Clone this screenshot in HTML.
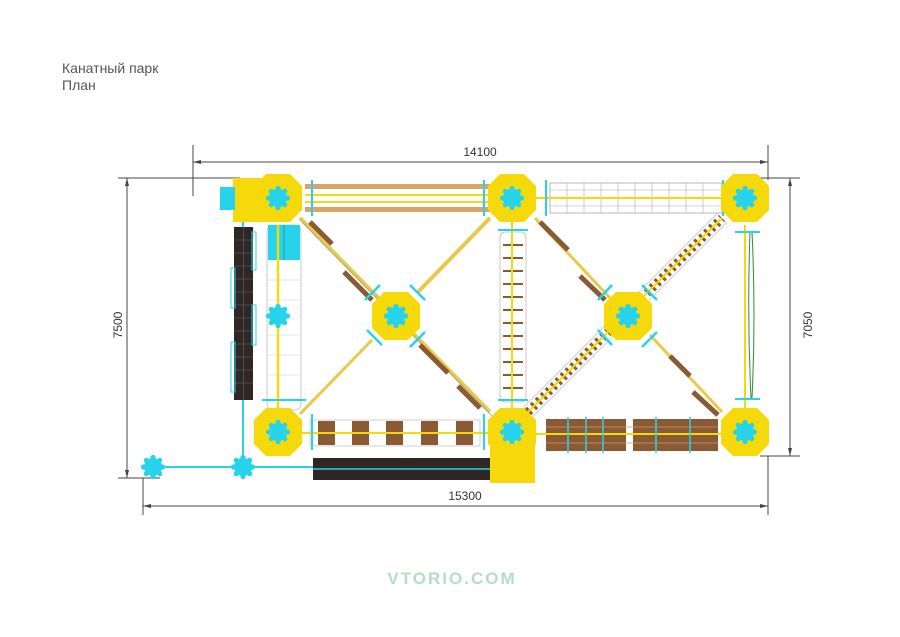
<!DOCTYPE html>
<html><head><meta charset="utf-8"><style>
html,body{margin:0;padding:0;background:#fff;}
svg{display:block;}
</style></head><body>
<svg width="900" height="637" viewBox="0 0 900 637" xmlns="http://www.w3.org/2000/svg">
<defs>
<g id="oct"><polygon points="-12,-24 12,-24 24,-12 24,12 12,24 -12,24 -24,12 -24,-12" fill="#f5d90a"/></g>
<g id="fl">
<g fill="#27d3ea">
<circle r="9"/>
<circle cx="0" cy="-9.5" r="2.6"/><circle cx="0" cy="9.5" r="2.6"/><circle cx="9.5" cy="0" r="2.6"/><circle cx="-9.5" cy="0" r="2.6"/>
<circle cx="6.7" cy="6.7" r="2.6"/><circle cx="-6.7" cy="6.7" r="2.6"/><circle cx="6.7" cy="-6.7" r="2.6"/><circle cx="-6.7" cy="-6.7" r="2.6"/>
</g></g>
</defs>

<text x="62" y="73" font-family="Liberation Sans, sans-serif" font-size="14" fill="#555">Канатный парк</text>
<text x="62" y="90" font-family="Liberation Sans, sans-serif" font-size="14" fill="#555">План</text>

<!-- dimensions -->
<g stroke="#444" stroke-width="1" fill="none">
<line x1="193" y1="162" x2="768" y2="162"/>
<line x1="193" y1="145" x2="193" y2="196"/>
<line x1="768" y1="145" x2="768" y2="180"/>
<line x1="127" y1="178" x2="127" y2="478"/>
<line x1="118" y1="178" x2="240" y2="178"/>
<line x1="118" y1="478" x2="160" y2="478"/>
<line x1="790" y1="178" x2="790" y2="456"/>
<line x1="760" y1="178" x2="800" y2="178"/>
<line x1="760" y1="456" x2="800" y2="456"/>
<line x1="143" y1="506" x2="768" y2="506"/>
<line x1="143" y1="478" x2="143" y2="515"/>
<line x1="768" y1="456" x2="768" y2="515"/>
</g>
<g fill="#444">
<polygon points="193,162 201,160 201,164"/><polygon points="768,162 760,160 760,164"/>
<polygon points="127,178 125,186 129,186"/><polygon points="127,478 125,470 129,470"/>
<polygon points="790,178 788,186 792,186"/><polygon points="790,456 788,448 792,448"/>
<polygon points="143,506 151,504 151,508"/><polygon points="768,506 760,504 760,508"/>
</g>
<g font-family="Liberation Sans, sans-serif" font-size="12" fill="#333">
<text x="480" y="156" text-anchor="middle">14100</text>
<text x="465" y="500" text-anchor="middle">15300</text>
<text transform="translate(122,325) rotate(-90)" text-anchor="middle">7500</text>
<text transform="translate(812,325) rotate(-90)" text-anchor="middle">7050</text>
</g>

<!-- cyan main lines -->
<g stroke="#27d3ea" stroke-width="2" fill="none">
<line x1="150" y1="467" x2="512" y2="467"/>
<line x1="243" y1="212" x2="243" y2="467"/>
</g>

<!-- left black panel column -->
<rect x="234" y="227" width="19" height="173" fill="#2e2725"/>
<g stroke="#6e6460" stroke-width="0.6">
<line x1="243.5" y1="227" x2="243.5" y2="400"/>
<line x1="234" y1="240" x2="253" y2="240"/><line x1="234" y1="253" x2="253" y2="253"/><line x1="234" y1="266" x2="253" y2="266"/><line x1="234" y1="279" x2="253" y2="279"/><line x1="234" y1="292" x2="253" y2="292"/><line x1="234" y1="305" x2="253" y2="305"/><line x1="234" y1="318" x2="253" y2="318"/><line x1="234" y1="331" x2="253" y2="331"/><line x1="234" y1="344" x2="253" y2="344"/><line x1="234" y1="357" x2="253" y2="357"/><line x1="234" y1="370" x2="253" y2="370"/><line x1="234" y1="383" x2="253" y2="383"/>
</g>
<g stroke="#27d3ea" stroke-width="1" fill="none">
<rect x="252" y="232" width="4" height="38"/><rect x="231" y="268" width="4" height="40"/><rect x="252" y="305" width="4" height="40"/><rect x="231" y="342" width="4" height="50"/>
</g>

<!-- left white column bridge -->
<rect x="267" y="225" width="34" height="185" rx="6" fill="#fff" stroke="#bbb" stroke-width="0.8"/>
<rect x="268" y="225" width="32" height="35" fill="#27d3ea"/>
<line x1="284" y1="225" x2="284" y2="260" stroke="#1a9cb0" stroke-width="1"/>
<line x1="278" y1="225" x2="278" y2="410" stroke="#f5d90a" stroke-width="2.5"/>
<g stroke="#ccc" stroke-width="0.6"><line x1="268" y1="280" x2="300" y2="280"/><line x1="268" y1="300" x2="300" y2="300"/><line x1="268" y1="335" x2="300" y2="335"/><line x1="268" y1="355" x2="300" y2="355"/><line x1="268" y1="375" x2="300" y2="375"/></g>
<use href="#fl" x="278" y="316"/>
<line x1="262" y1="400" x2="306" y2="400" stroke="#27d3ea" stroke-width="2"/>

<!-- top left bridge -->
<rect x="305" y="184" width="190" height="5" fill="#d8a468"/>
<rect x="305" y="207" width="190" height="5" fill="#d8a468"/>
<line x1="305" y1="195" x2="495" y2="195" stroke="#f5d90a" stroke-width="2"/>
<line x1="305" y1="202" x2="495" y2="202" stroke="#f5d90a" stroke-width="2"/>
<line x1="312" y1="180" x2="312" y2="216" stroke="#27d3ea" stroke-width="2"/>
<line x1="484" y1="180" x2="484" y2="216" stroke="#27d3ea" stroke-width="2"/>

<!-- top right net -->
<rect x="550" y="183" width="172" height="30" fill="none" stroke="#999" stroke-width="0.7"/>
<g stroke="#aaa" stroke-width="0.6">
<line x1="550" y1="190" x2="722" y2="190"/><line x1="550" y1="206" x2="722" y2="206"/>
<line x1="567" y1="183" x2="567" y2="213"/><line x1="584" y1="183" x2="584" y2="213"/><line x1="601" y1="183" x2="601" y2="213"/><line x1="618" y1="183" x2="618" y2="213"/><line x1="635" y1="183" x2="635" y2="213"/><line x1="652" y1="183" x2="652" y2="213"/><line x1="669" y1="183" x2="669" y2="213"/><line x1="686" y1="183" x2="686" y2="213"/><line x1="703" y1="183" x2="703" y2="213"/>
</g>
<line x1="536" y1="198" x2="722" y2="198" stroke="#f5d90a" stroke-width="2"/>
<line x1="546" y1="180" x2="546" y2="216" stroke="#27d3ea" stroke-width="2"/>
<line x1="723" y1="180" x2="723" y2="216" stroke="#27d3ea" stroke-width="2"/>

<!-- middle vertical bridge -->
<rect x="500" y="232" width="26" height="170" rx="5" fill="#fff" stroke="#bbb" stroke-width="0.8"/>
<g stroke="#8a5a34" stroke-width="2">
<line x1="503" y1="245" x2="523" y2="245"/><line x1="503" y1="258" x2="523" y2="258"/><line x1="503" y1="271" x2="523" y2="271"/><line x1="503" y1="284" x2="523" y2="284"/><line x1="503" y1="297" x2="523" y2="297"/><line x1="503" y1="310" x2="523" y2="310"/><line x1="503" y1="323" x2="523" y2="323"/><line x1="503" y1="336" x2="523" y2="336"/><line x1="503" y1="349" x2="523" y2="349"/><line x1="503" y1="362" x2="523" y2="362"/><line x1="503" y1="375" x2="523" y2="375"/><line x1="503" y1="388" x2="523" y2="388"/>
</g>
<line x1="512" y1="222" x2="512" y2="410" stroke="#f5d90a" stroke-width="2"/>
<line x1="498" y1="230" x2="528" y2="230" stroke="#27d3ea" stroke-width="2"/>
<line x1="498" y1="400" x2="528" y2="400" stroke="#27d3ea" stroke-width="2"/>

<!-- right vertical -->
<line x1="745" y1="225" x2="745" y2="410" stroke="#f5d90a" stroke-width="2"/>
<path d="M752 232 Q756 315 752 398 M750 232 Q747 315 751 398" stroke="#2e8b3a" stroke-width="1" fill="none"/>
<line x1="735" y1="232" x2="760" y2="232" stroke="#27d3ea" stroke-width="2"/>
<line x1="735" y1="399" x2="760" y2="399" stroke="#27d3ea" stroke-width="2"/>

<!-- diagonals left square -->
<g stroke-linecap="butt">
<line x1="300" y1="218" x2="490" y2="412" stroke="#eac94a" stroke-width="4"/>
<line x1="302" y1="222" x2="492" y2="416" stroke="#999" stroke-width="0.7"/>
<line x1="490" y1="218" x2="418" y2="292" stroke="#eac94a" stroke-width="4"/>
<line x1="372" y1="340" x2="300" y2="414" stroke="#eac94a" stroke-width="3"/>
<g stroke="#8a5a34" stroke-width="5">
<line x1="310" y1="222" x2="332" y2="244"/><line x1="344" y1="272" x2="372" y2="300"/>
<line x1="420" y1="345" x2="448" y2="373"/><line x1="458" y1="386" x2="480" y2="408"/>
</g>
<!-- right square -->
<line x1="535" y1="218" x2="610" y2="298" stroke="#eac94a" stroke-width="3"/>
<line x1="650" y1="335" x2="722" y2="412" stroke="#eac94a" stroke-width="3"/>
<g stroke="#8a5a34" stroke-width="5">
<line x1="540" y1="222" x2="568" y2="250"/><line x1="580" y1="276" x2="605" y2="300"/>
<line x1="670" y1="356" x2="690" y2="376"/><line x1="693" y1="392" x2="718" y2="415"/>
</g>
<line x1="528" y1="412" x2="722" y2="218" stroke="#ccc" stroke-width="14"/>
<line x1="528" y1="412" x2="722" y2="218" stroke="#fff" stroke-width="12"/>
<line x1="528" y1="412" x2="722" y2="218" stroke="#8a5a34" stroke-width="9" stroke-dasharray="3 4"/>
<line x1="528" y1="412" x2="722" y2="218" stroke="#f5d90a" stroke-width="2"/>
</g>

<!-- bottom left bridge -->
<rect x="310" y="420" width="170" height="26" fill="#fff" stroke="#bbb" stroke-width="0.7"/>
<g fill="#8a5a34"><rect x="318" y="421" width="17" height="24"/><rect x="352" y="421" width="17" height="24"/><rect x="386" y="421" width="17" height="24"/><rect x="421" y="421" width="17" height="24"/><rect x="456" y="421" width="17" height="24"/></g>
<line x1="300" y1="433" x2="490" y2="433" stroke="#f5d90a" stroke-width="2"/>
<line x1="312" y1="414" x2="312" y2="450" stroke="#27d3ea" stroke-width="2"/>
<line x1="484" y1="414" x2="484" y2="450" stroke="#27d3ea" stroke-width="2"/>

<!-- bottom right bridge -->
<rect x="546" y="419" width="80" height="32" fill="#8a5a34"/>
<rect x="633" y="419" width="85" height="32" fill="#8a5a34"/>
<g stroke="#c59a6a" stroke-width="0.8"><line x1="546" y1="427" x2="718" y2="427"/><line x1="546" y1="443" x2="718" y2="443"/></g>
<line x1="536" y1="434" x2="722" y2="434" stroke="#f5d90a" stroke-width="2"/>
<g stroke="#27d3ea" stroke-width="1.5"><line x1="568" y1="417" x2="568" y2="453"/><line x1="586" y1="417" x2="586" y2="453"/><line x1="603" y1="417" x2="603" y2="453"/><line x1="656" y1="417" x2="656" y2="453"/><line x1="690" y1="417" x2="690" y2="453"/></g>

<!-- bottom black strip -->
<rect x="313" y="458" width="183" height="22" fill="#2e2725"/>
<line x1="313" y1="469" x2="496" y2="469" stroke="#27d3ea" stroke-width="1.5"/>

<!-- platforms -->
<rect x="233" y="178" width="50" height="44" fill="#f5d90a"/>
<rect x="220" y="187" width="15" height="23" fill="#27d3ea"/>
<rect x="490" y="440" width="45" height="43" fill="#f5d90a"/>
<use href="#oct" x="278" y="198"/><use href="#oct" x="512" y="198"/><use href="#oct" x="745" y="198"/>
<use href="#oct" x="278" y="432"/><use href="#oct" x="512" y="432"/><use href="#oct" x="745" y="432"/>
<use href="#oct" x="396" y="316"/><use href="#oct" x="628" y="316"/>
<use href="#fl" x="278" y="198"/><use href="#fl" x="512" y="198"/><use href="#fl" x="745" y="198"/>
<use href="#fl" x="278" y="432"/><use href="#fl" x="512" y="432"/><use href="#fl" x="745" y="432"/>
<use href="#fl" x="396" y="316"/><use href="#fl" x="628" y="316"/>
<use href="#fl" x="153" y="467"/><use href="#fl" x="243" y="467"/>

<!-- cyan bars at platforms -->
<g stroke="#27d3ea" stroke-width="2.5">
<line x1="365" y1="300" x2="380" y2="285"/><line x1="410" y1="285" x2="425" y2="300"/><line x1="367" y1="330" x2="382" y2="345"/><line x1="410" y1="347" x2="425" y2="332"/>
<line x1="598" y1="300" x2="612" y2="285"/><line x1="642" y1="285" x2="657" y2="300"/><line x1="598" y1="330" x2="612" y2="345"/><line x1="642" y1="347" x2="657" y2="332"/>
</g>

<text x="452" y="584" text-anchor="middle" font-family="Liberation Sans, sans-serif" font-weight="bold" font-size="17" letter-spacing="2" fill="#b4dcc6">VTORIO.COM</text>
</svg>
</body></html>
